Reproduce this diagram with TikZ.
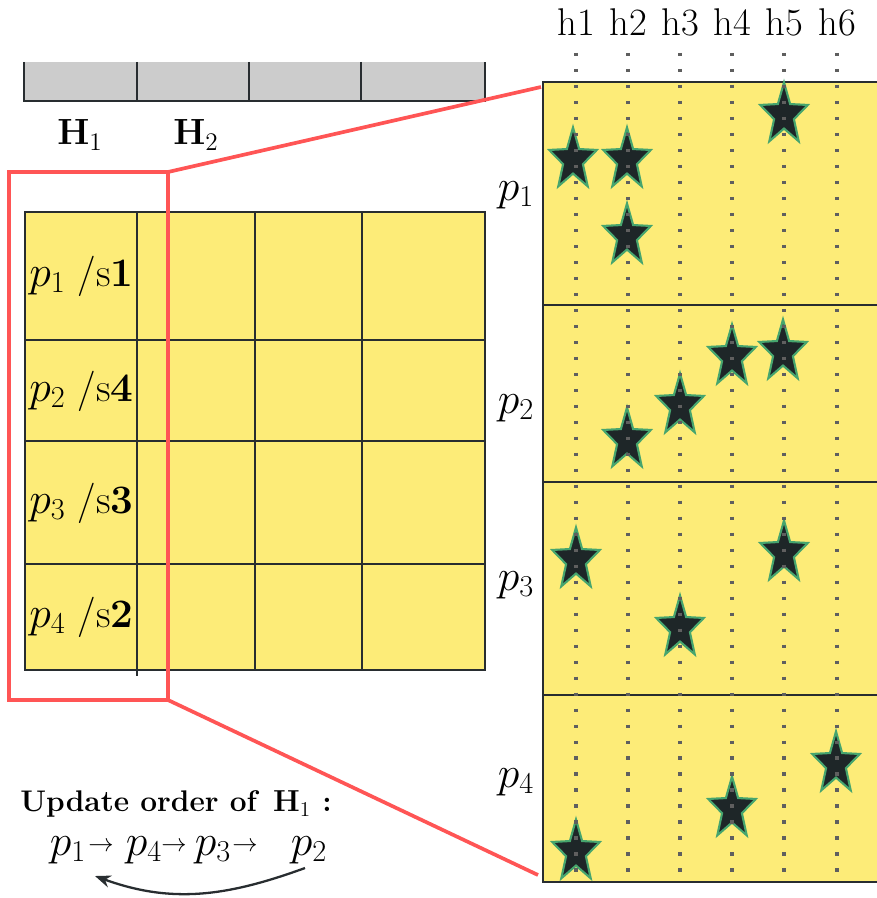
\documentclass[tikz,border=0pt]{standalone}
\usepackage{amsmath}
\usetikzlibrary{arrows.meta,positioning,shapes.geometric}
\definecolor{cellyel}{RGB}{253,236,120}
\definecolor{bargray}{RGB}{204,204,204}
\definecolor{zoomred}{RGB}{255,85,85}
\definecolor{gridline}{RGB}{40,45,48}
\definecolor{stardark}{RGB}{30,38,40}
\definecolor{stargreen}{RGB}{70,165,110}
\definecolor{dotgray}{RGB}{95,95,95}
\tikzset{
  gridln/.style={draw=gridline,line width=1pt},
  zoomln/.style={draw=zoomred,line width=2.1pt},
  hitstar/.style={star,star points=5,star point ratio=2.4,minimum size=1.0cm,inner sep=0pt,fill=stardark,draw=stargreen,line width=1.2pt,yscale=1.3},
  hcol/.style={draw=dotgray,line width=1.8pt,dash pattern=on 1.8pt off 7.3pt},
  celllbl/.style={font=\fontsize{23}{27}\selectfont,anchor=west,inner sep=0pt},
  rowlbl/.style={font=\fontsize{24}{28}\selectfont,inner sep=0pt},
  hlbl/.style={font=\fontsize{22}{26}\selectfont},
  ordtxt/.style={font=\fontsize{17}{21}\selectfont\bfseries,inner sep=0pt},
  seqarr/.style={font=\fontsize{14}{16}\selectfont,inner sep=0pt},
  backarr/.style={-{Stealth[length=9pt,width=7pt]},draw=gridline,line width=1.3pt}
}
\begin{document}
\begin{tikzpicture}[x=0.02cm,y=-0.02cm]
  \useasboundingbox (0,0) rectangle (876,898);

  % Head bar
  \fill[bargray] (24,62) rectangle (485,101);
  \draw[gridln] (24,62) |- (485,101) -- (485,62);
  \foreach \x in {137,249,361}
    \draw[gridln] (\x,62) -- (\x,101);
  \node[font=\fontsize{20}{24}\selectfont] (H1) at (80,135) {$\mathbf{H}_1$};
  \node[font=\fontsize{20}{24}\selectfont] (H2) at (196,135) {$\mathbf{H}_2$};

  % Left grid
  \fill[cellyel] (25,212) rectangle (485,670);
  \draw[gridln] (25,212) rectangle (485,670);
  \foreach \y in {340,441,564}
    \draw[gridln] (25,\y) -- (485,\y);
  \foreach \x in {255,362}
    \draw[gridln] (\x,212) -- (\x,670);
  \draw[gridln] (137,212) -- (137,676);
  \foreach \p/\s/\y [count=\i] in {1/1/276,2/4/391,3/3/503,4/2/617}
    \node[celllbl] (c\i) at (29,\y) {$p_{\p}$ /s\textbf{\s}};

  % Zoom box
  \draw[zoomln] (9,172) rectangle (168,700);
  \coordinate (zt) at (168,172);
  \coordinate (zb) at (168,700);

  % Right panel
  \fill[cellyel] (543,82) rectangle (880,882);
  \draw[gridln] (880,82) -| (543,882) -- (880,882);
  \foreach \y in {305,482,695}
    \draw[gridln] (543,\y) -- (880,\y);
  \coordinate (pt) at (541,87);
  \coordinate (pb) at (538,875);
  \draw[zoomln] (zt) -- (pt);
  \draw[zoomln] (zb) -- (pb);

  % Stars
  \foreach \x/\y [count=\i] in {573/160,627/160,627/236,784/115,
      627/440,680/406,732/357,783/352,
      576/560,784/553,680/628,
      576/852,732/809,836/764}
    \node[hitstar] (s\i) at (\x,\y) {};

  % Columns h1..h6
  \foreach \x [count=\i] in {576,628,680,732,784,837} {
    \node[hlbl] (h\i) at (\x,22) {h\i};
    \draw[hcol] (\x,53) -- (\x,875);
  }

  % Row labels
  \foreach \y [count=\i] in {195,408,585,782}
    \node[rowlbl] (r\i) at (516,\y) {$p_{\i}$};

  % Update order
  \node[ordtxt] (upd) at (176,804) {Update order of \,$\mathbf{H}_1$ :};
  \node[rowlbl] (o1) at (68,850) {$p_1$};
  \node[rowlbl] (o4) at (144,850) {$p_4$};
  \node[rowlbl] (o3) at (213,850) {$p_3$};
  \node[rowlbl] (o2) at (309,850) {$p_2$};
  \node[seqarr] (a1) at (101,847) {$\rightarrow$};
  \node[seqarr] (a2) at (174,847) {$\rightarrow$};
  \node[seqarr] (a3) at (245,847) {$\rightarrow$};
  \draw[backarr] ([shift={(-4,4)}]o2.south) to[out=-160,in=-20] ([shift={(27,12)}]o1.south);
\end{tikzpicture}
\end{document}
